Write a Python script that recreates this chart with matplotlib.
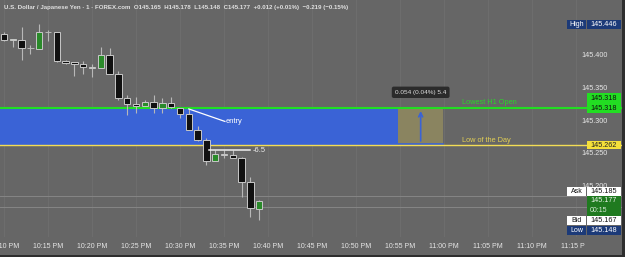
"""USD/JPY 1-minute chart with the lowest-H1-open / low-of-day zone."""

import matplotlib

matplotlib.use("Agg")
import matplotlib.pyplot as plt
from matplotlib.patches import Rectangle
from matplotlib.transforms import Bbox, TransformedBbox, blended_transform_factory

plt.rcParams["font.family"] = ["Liberation Sans", "DejaVu Sans"]

# --- data -------------------------------------------------------------------
# one-minute candles from 10:10 PM to 10:39 PM
opens = [145.431, 145.422, 145.422, 145.410, 145.409, 145.434, 145.434, 145.390,
         145.388, 145.386, 145.381, 145.379, 145.400, 145.370, 145.334, 145.325,
         145.322, 145.327, 145.318, 145.326, 145.319, 145.309, 145.285, 145.269,
         145.238, 145.249, 145.247, 145.242, 145.206, 145.165]
highs = [145.435, 145.423, 145.442, 145.414, 145.446, 145.437, 145.435, 145.392,
         145.389, 145.390, 145.385, 145.411, 145.410, 145.375, 145.338, 145.335,
         145.331, 145.338, 145.334, 145.335, 145.319, 145.317, 145.291, 145.273,
         145.254, 145.254, 145.254, 145.244, 145.214, 145.178]
lows = [145.420, 145.411, 145.392, 145.401, 145.409, 145.421, 145.389, 145.386,
        145.367, 145.370, 145.365, 145.379, 145.370, 145.331, 145.308, 145.311,
        145.321, 145.311, 145.311, 145.319, 145.303, 145.285, 145.268, 145.232,
        145.238, 145.242, 145.242, 145.183, 145.153, 145.148]
closes = [145.422, 145.423, 145.410, 145.410, 145.434, 145.434, 145.390, 145.387,
          145.385, 145.381, 145.379, 145.400, 145.370, 145.334, 145.325, 145.322,
          145.327, 145.319, 145.326, 145.320, 145.310, 145.285, 145.269, 145.238,
          145.248, 145.247, 145.242, 145.206, 145.166, 145.177]

time_labels = ["10:10 PM", "10:15 PM", "10:20 PM", "10:25 PM", "10:30 PM", "10:35 PM",
               "10:40 PM", "10:45 PM", "10:50 PM", "10:55 PM", "11:00 PM", "11:05 PM",
               "11:10 PM", "11:15 PM"]
price_ticks = [145.200, 145.250, 145.300, 145.350, 145.400]

lowest_h1_open = 145.318
low_of_day = 145.262
day_high = 145.446
day_low = 145.148
ask = 145.185
bid = 145.167
countdown = "00:15"

measure_low, measure_high = 145.264, 145.318
measure_start, measure_end = 44.8, 49.9   # bar positions of the measure box
entry_from = (21.0, 145.317)
entry_to = (25.1, 145.298)
target_line = (23.3, 27.95, 145.254)
target_text = "-6.5"

symbol = "U.S. Dollar / Japanese Yen \u00b7 1 \u00b7 FOREX.com"
change_bar = "+0.012 (+0.01%)"
change_day = "\u22120.219 (\u22120.15%)"

# --- colours ----------------------------------------------------------------
BG = "#666666"
GRID = "#6d6d6d"
WICK = "#b8b8b8"
EDGE = "#c8c8c8"
BEAR = "#111111"
BULL = "#2a8a2a"
ZONE = "#3a63d6"
MEASURE = "#8a8460"
LIME = "#22dd22"
YELLOW = "#f3dd55"
NAVY = "#1c3a78"
TEXT = "#e6e6e6"

# --- view (pixel layout of the original screenshot) -------------------------
W, H = 625, 257
AX_W, AX_H = 622, 237
PX_BAR, BAR0_PX = 8.8, 4.0        # px per minute, px of first bar
PX_PRICE = 656.0                  # px per 1.000 yen
REF_PRICE, REF_PX = 145.400, 54.5

fig = plt.figure(figsize=(W / 100, H / 100), dpi=100)
fig.patch.set_facecolor(BG)
ax = fig.add_axes([0, (H - AX_H) / H, AX_W / W, AX_H / H])
ax.set_facecolor(BG)
ax.set_axisbelow(True)
for s in ax.spines.values():
    s.set_visible(False)

ax.set_xlim(-BAR0_PX / PX_BAR, (AX_W - BAR0_PX) / PX_BAR)
ax.set_ylim(REF_PRICE - (AX_H - REF_PX) / PX_PRICE, REF_PRICE + REF_PX / PX_PRICE)


def px(n):
    """pixel height -> price units"""
    return n / PX_PRICE


# grid + ticks
ax.set_xticks(range(0, 5 * len(time_labels), 5))
ax.set_xticklabels(time_labels)
ax.grid(axis="x", color=GRID, linewidth=0.8)
ax.tick_params(axis="x", length=0, pad=4.5, labelsize=5.0, labelcolor=TEXT)
ax.yaxis.tick_right()
ax.set_yticks(price_ticks)
ax.set_yticklabels([f"{p:.3f}" for p in price_ticks])
ax.tick_params(axis="y", length=0, pad=-29, labelsize=5.2, labelcolor=TEXT)
clip = TransformedBbox(Bbox([[0, 0], [585 / W, 1]]), fig.transFigure)
for lab in ax.get_xticklabels():
    lab.set_clip_box(clip)
    lab.set_clip_on(True)

xmin, xmax = ax.get_xlim()

# zone between lowest H1 open and low of the day
ax.add_patch(Rectangle((xmin, low_of_day), measure_start - xmin, lowest_h1_open - low_of_day,
                       facecolor=ZONE, edgecolor="none", zorder=1))
ax.add_patch(Rectangle((measure_start, measure_low), measure_end - measure_start,
                       measure_high - measure_low, facecolor=MEASURE, edgecolor="none", zorder=1))
ax.plot([measure_start, measure_end], [measure_low, measure_low], color=ZONE, lw=1.2, zorder=1.5)
mid = (measure_start + measure_end) / 2
ax.annotate("", xy=(mid, measure_high), xytext=(mid, measure_low),
            arrowprops=dict(arrowstyle="->", color=ZONE, lw=1.2, mutation_scale=7), zorder=1.5)
diff = measure_high - measure_low
ax.text(mid, measure_high + px(16), f"{diff:.3f} ({diff / measure_high * 100:.2f}%) {diff * 100:.1f}",
        ha="center", va="center", fontsize=4.6, color="#dddddd", zorder=6,
        bbox=dict(boxstyle="round,pad=0.5,rounding_size=0.3", fc="#2b2b2b", ec="none"))

# level lines
ax.axhline(lowest_h1_open, color=LIME, lw=1.5, zorder=2)
ax.axhline(low_of_day, color=YELLOW, lw=1.0, zorder=2)
ax.axhline(ask, color="#858585", lw=0.7, zorder=0.8)
ax.axhline(bid, color="#858585", lw=0.7, zorder=0.8)
ax.text(52.0, lowest_h1_open + px(2), "Lowest H1 Open", color="#2bd42b", fontsize=5.3,
        va="bottom", ha="left", zorder=5)
ax.text(52.0, low_of_day + px(1), "Low of the Day", color="#e2cf55", fontsize=5.3,
        va="bottom", ha="left", zorder=5)

# candles
xs = range(len(opens))
ax.vlines(xs, lows, highs, color=WICK, lw=0.8, zorder=3)
for i, (o, c) in enumerate(zip(opens, closes)):
    if c > o:
        face, edge = BULL, EDGE
    elif c < o:
        face, edge = BEAR, EDGE
    else:
        face, edge = WICK, WICK
    ax.bar(i, abs(c - o), bottom=min(o, c), width=0.72, color=face,
           edgecolor=edge, linewidth=0.7, zorder=4)

# drawings
ax.plot([entry_from[0], entry_to[0]], [entry_from[1], entry_to[1]], color="white", lw=0.9, zorder=5)
ax.text(entry_to[0] + 0.1, entry_to[1], "entry", color="white", fontsize=5.4,
        va="center", ha="left", zorder=5)
ax.plot(target_line[:2], [target_line[2]] * 2, color="#eeeeee", lw=1.1, zorder=5)
ax.text(target_line[1] + 0.3, target_line[2], target_text, color="#eeeeee", fontsize=5.4,
        va="center", ha="left", zorder=5)

# header
ax.text(4 / AX_W, 1 - 8 / AX_H,
        f"{symbol}  O{opens[-1]:.3f}  H{highs[-1]:.3f}  L{lows[-1]:.3f}  "
        f"C{closes[-1]:.3f}  {change_bar}  {change_day}",
        transform=ax.transAxes, fontsize=4.4, color="#e0e0e0", va="center", ha="left",
        fontweight="bold", zorder=6)

# price-scale tags
trans = blended_transform_factory(ax.transAxes, ax.transData)
VAL_X0, VAL_W = 587 / AX_W, 34 / AX_W
LAB_X0, LAB_W = 567 / AX_W, 19 / AX_W


def tag(price, text, face, fg, h=9, label=None, lface=None, lfg=None):
    ax.add_patch(Rectangle((VAL_X0, price - px(h / 2)), VAL_W, px(h), transform=trans,
                           facecolor=face, edgecolor="none", clip_on=False, zorder=10))
    ax.text(VAL_X0 + VAL_W / 2, price, text, transform=trans, ha="center", va="center",
            fontsize=5.2, color=fg, zorder=11, clip_on=False)
    if label:
        ax.add_patch(Rectangle((LAB_X0, price - px(h / 2)), LAB_W, px(h), transform=trans,
                               facecolor=lface, edgecolor="none", clip_on=False, zorder=10))
        ax.text(LAB_X0 + LAB_W / 2, price, label, transform=trans, ha="center", va="center",
                fontsize=5.0, color=lfg, zorder=11, clip_on=False)


tag(day_high, f"{day_high:.3f}", NAVY, "white", label="High", lface=NAVY, lfg="white")
tag(lowest_h1_open + px(10), f"{lowest_h1_open:.3f}", LIME, "#111111", h=10)
tag(lowest_h1_open, f"{lowest_h1_open:.3f}", LIME, "#111111", h=10)
tag(low_of_day, f"{low_of_day:.3f}", "#f5e03a", "#222222", h=8.5)

last = closes[-1]
ax.add_patch(Rectangle((VAL_X0, last - px(15)), VAL_W, px(19.5), transform=trans,
                       facecolor="#1f7a1f", edgecolor="none", clip_on=False, zorder=10))
ax.text(VAL_X0 + VAL_W / 2, last, f"{last:.3f}", transform=trans, ha="center", va="center",
        fontsize=5.2, color="#e8f3e8", zorder=11, clip_on=False)
ax.text(VAL_X0 + 3 / AX_W, last - px(10), countdown, transform=trans, ha="left", va="center",
        fontsize=5.0, color="#d8ead8", zorder=11, clip_on=False)
tag(last + px(9.7), f"{ask:.3f}", "white", "#111111", label="Ask", lface="white", lfg="#111111")
tag(last - px(19.8), f"{bid:.3f}", "white", "#111111", label="Bid", lface="white", lfg="#111111")
tag(last - px(30), f"{day_low:.3f}", NAVY, "white", label="Low", lface=NAVY, lfg="white")

# window borders
fig.patches.append(Rectangle((AX_W / W, 0), 1 - AX_W / W, 1, transform=fig.transFigure,
                             facecolor="#2e2e2e", edgecolor="none"))
fig.patches.append(Rectangle((0, 0), 1, 2 / H, transform=fig.transFigure,
                             facecolor="#2e2e2e", edgecolor="none"))

fig.savefig("out.png", dpi=100, facecolor=fig.get_facecolor())
